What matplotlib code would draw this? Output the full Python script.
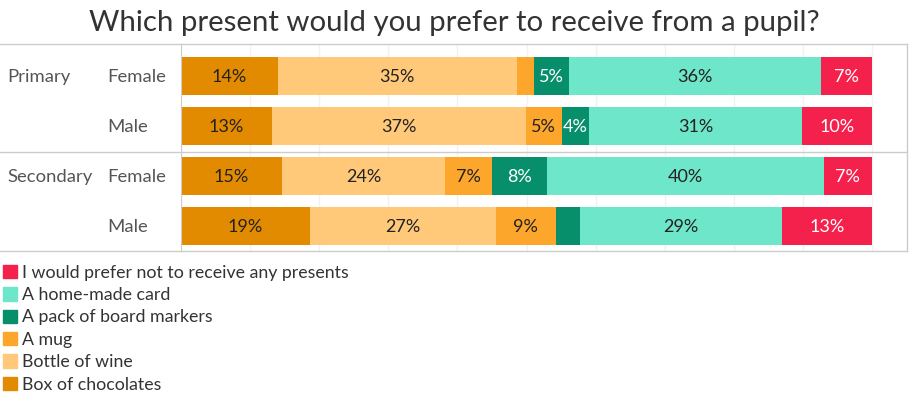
import matplotlib.pyplot as plt
import matplotlib.transforms as mtransforms
from matplotlib.lines import Line2D
from matplotlib.patches import Patch
import numpy as np

plt.rcParams['font.family'] = ['Lato', 'DejaVu Sans']

groups = ["Primary", "", "Secondary", ""]
genders = ["Female", "Male", "Female", "Male"]
options = ["Box of chocolates", "Bottle of wine", "A mug",
           "A pack of board markers", "A home-made card",
           "I would prefer not to receive any presents"]
colors = ["#e38b00", "#ffc979", "#fca72b", "#078f6c", "#6ee6c9", "#f5214d"]
text_colors = ["#222222", "#222222", "#222222", "white", "#222222", "white"]

# percentages per row (Primary F, Primary M, Secondary F, Secondary M)
chocolates = [14.0, 13.1, 14.6, 18.6]
wine = [34.6, 36.8, 23.6, 27.0]
mug = [2.5, 5.2, 6.8, 8.6]
markers = [5.0, 4.0, 8.0, 3.6]
card = [36.5, 30.8, 40.0, 29.2]
none = [7.4, 10.1, 7.0, 13.0]
values = [chocolates, wine, mug, markers, card, none]

W, H = 909, 394
fig = plt.figure(figsize=(W / 100, H / 100), dpi=100)
ax = fig.add_axes([181 / W, 1 - 251 / H, (907 - 181) / W, (251 - 44) / H])

y = np.arange(len(genders))
left = np.zeros(len(genders))
for vals, col, tcol in zip(values, colors, text_colors):
    vals = np.array(vals, dtype=float)
    ax.barh(y, vals, left=left, height=0.76, color=col, zorder=2)
    for yi, v, l in zip(y, vals, left):
        if v >= 4:
            ax.text(l + v / 2, yi + 0.02, f"{v:.0f}%", ha='center', va='center',
                    fontsize=13, color=tcol, zorder=3)
    left += vals

ax.set_xlim(0, (907 - 181) / 691 * 100)
ax.set_ylim(3.5, -0.64)
ax.set_xticks(np.arange(0, 101, 10))
ax.grid(axis='x', color='#f2f2f2', linewidth=1, zorder=0)
ax.tick_params(left=False, bottom=False, labelleft=False, labelbottom=False)
for s in ['top', 'bottom', 'right']:
    ax.spines[s].set_visible(False)
ax.spines['left'].set_color('#cccccc')

# row labels
trans = mtransforms.blended_transform_factory(fig.transFigure, ax.transData)
for yi, g, s in zip(y, groups, genders):
    ax.text(7 / W, yi + 0.02, g, transform=trans, ha='left', va='center',
            fontsize=13.3, color='#555555')
    ax.text(107 / W, yi + 0.02, s, transform=trans, ha='left', va='center',
            fontsize=13.3, color='#555555')

# frame lines
for py in [44, 152, 251]:
    fig.add_artist(Line2D([0, 907 / W], [1 - py / H, 1 - py / H],
                          color='#cccccc', linewidth=1))
fig.add_artist(Line2D([907 / W, 907 / W], [1 - 44 / H, 1 - 251 / H],
                      color='#cccccc', linewidth=1))

fig.text(0.5, 1 - 23 / H, "Which present would you prefer to receive from a pupil?",
         ha='center', va='center', fontsize=21.2, color='#333333')

handles = [Patch(color=c, label=o) for c, o in zip(colors, options)][::-1]
fig.legend(handles=handles, loc='upper left', bbox_to_anchor=(0, 1 - 262 / H),
           frameon=False, fontsize=12.8, handlelength=0.78, handleheight=0.78,
           handletextpad=0.3, labelspacing=0.36, borderaxespad=0, borderpad=0.15,
           labelcolor='#333333')

fig.savefig("out.png", dpi=100)
